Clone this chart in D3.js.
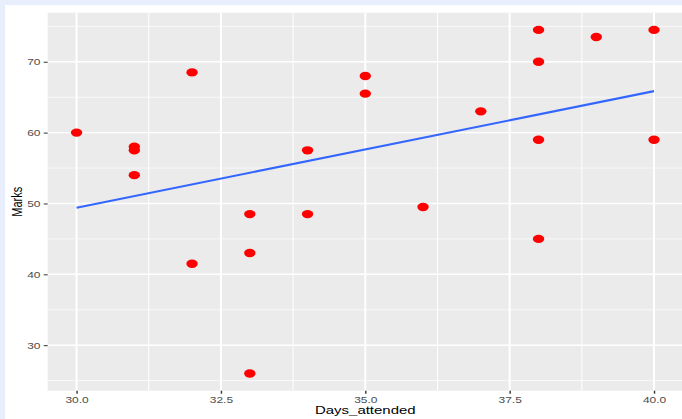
<!DOCTYPE html>
<html><head><meta charset="utf-8">
<script src="https://cdn.jsdelivr.net/npm/d3@7"></script>
<style>
html,body{margin:0;padding:0;background:#e8eefb;}
svg{display:block;}
text{font-family:"Liberation Sans",Arial,Helvetica,sans-serif;}
</style></head>
<body>
<svg id="c" width="682" height="419"></svg>
<script>
const daysAttended = [30,31,31,31,32,32,33,33,33,34,34,35,35,36,37,38,38,38,38,39,40,40];
const marks = [60,58,57.5,54,68.5,41.5,48.5,43,26,57.5,48.5,68,65.5,49.5,63,74.5,70,59,45,73.5,74.5,59];
const xTicks = [30,32.5,35,37.5,40];
const xTickLabels = ["30.0","32.5","35.0","37.5","40.0"];
const xMinor = [31.25,33.75,36.25,38.75];
const yTicks = [30,40,50,60,70];
const yMinor = [25,35,45,55,65,75];
const xTitle = "Days_attended";
const yTitle = "Marks";

const SX = 1.36; // horizontal stretch of the picture
const svg = d3.select("#c");
svg.append("rect").attr("x",0).attr("y",0).attr("width",682).attr("height",419).attr("fill","#e8eefb");
svg.append("rect").attr("x",5).attr("y",5).attr("width",677).attr("height",414).attr("fill","#ffffff");

const pL = 47.7, pR = 682.9, pT = 12.7, pB = 390.7;
const xExt = d3.extent(daysAttended), yExt = d3.extent(marks);
const xPad = (xExt[1]-xExt[0])*0.05, yPad = (yExt[1]-yExt[0])*0.05;
const x = d3.scaleLinear().domain([xExt[0]-xPad, xExt[1]+xPad]).range([pL,pR]);
const y = d3.scaleLinear().domain([yExt[0]-yPad, yExt[1]+yPad]).range([pB,pT]);

svg.append("rect").attr("x",pL).attr("y",pT).attr("width",pR-pL).attr("height",pB-pT).attr("fill","#ebebeb");

const grid = svg.append("g");
grid.selectAll(".ymin").data(yMinor).join("line")
  .attr("x1",pL).attr("x2",pR).attr("y1",d=>y(d)).attr("y2",d=>y(d))
  .attr("stroke","#fff").attr("stroke-width",0.7);
grid.selectAll(".xmin").data(xMinor).join("line")
  .attr("y1",pT).attr("y2",pB).attr("x1",d=>x(d)).attr("x2",d=>x(d))
  .attr("stroke","#fff").attr("stroke-width",1.0);
grid.selectAll(".ymaj").data(yTicks).join("line")
  .attr("x1",pL).attr("x2",pR).attr("y1",d=>y(d)).attr("y2",d=>y(d))
  .attr("stroke","#fff").attr("stroke-width",1.4);
grid.selectAll(".xmaj").data(xTicks).join("line")
  .attr("y1",pT).attr("y2",pB).attr("x1",d=>x(d)).attr("x2",d=>x(d))
  .attr("stroke","#fff").attr("stroke-width",2.0);

// axes
const xAxis = svg.append("g").attr("transform",`translate(0,${pB})`)
  .call(d3.axisBottom(x).tickValues(xTicks).tickFormat((d,i)=>xTickLabels[i]).tickSize(3).tickPadding(0));
xAxis.select(".domain").remove();
xAxis.selectAll(".tick line").attr("stroke","#333").attr("stroke-width",1.4);
xAxis.selectAll(".tick text").attr("fill","#4d4d4d").attr("font-size",8.8)
  .attr("y",12).attr("dy",0).attr("transform",`scale(${SX},1)`);

const yAxis = svg.append("g").attr("transform",`translate(${pL},0)`)
  .call(d3.axisLeft(y).tickValues(yTicks).tickFormat(d3.format("d")).tickSize(4).tickPadding(0));
yAxis.select(".domain").remove();
yAxis.selectAll(".tick line").attr("stroke","#333").attr("stroke-width",1.0);
yAxis.selectAll(".tick text").attr("fill","#4d4d4d").attr("font-size",8.8)
  .attr("x",-7.2/SX).attr("dy","0.35em").attr("transform",`scale(${SX},1)`);

// regression line (least squares, like geom_smooth(method="lm", se=FALSE))
const mx = d3.mean(daysAttended), my = d3.mean(marks);
let sxy=0, sxx=0;
daysAttended.forEach((d,i)=>{sxy+=(d-mx)*(marks[i]-my); sxx+=(d-mx)*(d-mx);});
const slope = sxy/sxx, icpt = my - slope*mx;
const lineData = [xExt[0], xExt[1]].map(v=>[v, icpt+slope*v]);
svg.append("path").datum(lineData)
  .attr("d", d3.line().x(d=>x(d[0])).y(d=>y(d[1])))
  .attr("fill","none").attr("stroke","#3366ff").attr("stroke-width",2.1);

// points
svg.append("g").selectAll("ellipse").data(daysAttended).join("ellipse")
  .attr("cx",d=>x(d)).attr("cy",(d,i)=>y(marks[i]))
  .attr("rx",5.7).attr("ry",4.2).attr("fill","#ff0000");

// titles
svg.append("text").attr("transform",`translate(${(pL+pR)/2},413.5) scale(${SX},1)`)
  .attr("text-anchor","middle").attr("font-size",11).attr("fill","#000").text(xTitle);
svg.append("text").attr("transform",`translate(21.8,${(pT+pB)/2}) scale(${SX},1) rotate(-90)`)
  .attr("text-anchor","middle").attr("font-size",11).attr("fill","#000").text(yTitle);
</script>
</body></html>
